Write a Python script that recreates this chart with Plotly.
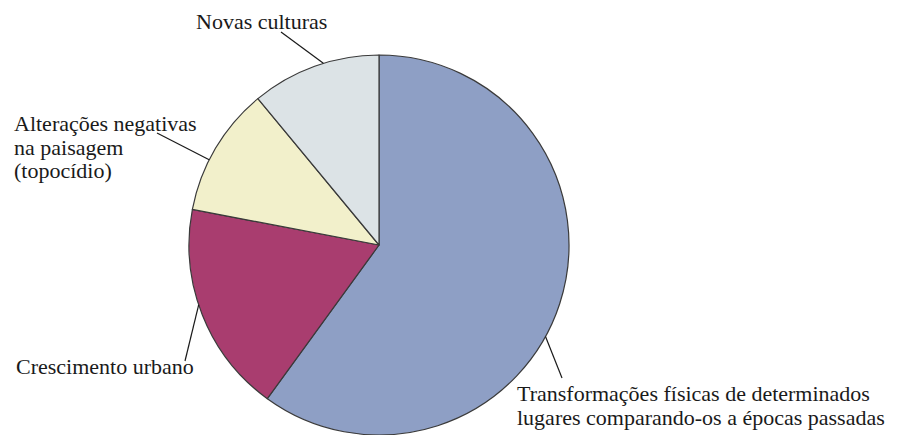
"""
Pie chart of how landscape change is perceived, with outside labels
joined to their slices by thin leader lines.
"""

import math
import plotly.graph_objects as go

# slices, clockwise from 12 o'clock
labels = [
    "Transformações físicas de determinados<br>lugares comparando-os a épocas passadas",
    "Crescimento urbano",
    "Alterações negativas<br>na paisagem<br>(topocídio)",
    "Novas culturas",
]
values = [60, 18, 11, 11]
colors = ["#8E9FC5", "#A93D6F", "#F2F0CB", "#DCE3E6"]

# layout (pixels in the browser window, which is 899 x 435)
W, H = 899, 435
OFF = 8  # default body margin of the page
CX, CY, R = 379, 245, 190
# where along each slice the leader line touches the rim (0..1)
tip_frac = [0.55, 0.55, 0.40, 0.57]
# tail of each leader line and the top-left corner of each label
tails = [(562, 378), (185, 361), (157, 133), (281, 32)]
text_pos = [(515, 379), (14, 352), (12, 109), (194, 7)]
LINE_GAP = 23.5  # tighter than plotly's own <br> spacing

FONT = "Times New Roman, serif"
FONT_SIZE = 22


def px(x, y):
    # window pixel -> paper coordinates (no margins)
    return (x - OFF) / W, 1 - (y - OFF) / H


def main():
    fig = go.Figure()
    x0, y1 = px(CX - R, CY - R)
    x1, y0 = px(CX + R, CY + R)
    fig.add_trace(
        go.Pie(
            labels=labels,
            values=values,
            sort=False,
            direction="clockwise",
            rotation=0,
            marker=dict(colors=colors, line=dict(color="#3a3a3a", width=1.2)),
            textinfo="none",
            hoverinfo="label+percent",
            showlegend=False,
            domain=dict(x=[x0, x1], y=[y0, y1]),
        )
    )

    # leader lines: rim point computed from the cumulative slice angles
    total = sum(values)
    start = 0.0
    for v, f, (tx, ty) in zip(values, tip_frac, tails):
        ang = math.radians((start + v * f) / total * 360)
        rx = CX + R * math.sin(ang)
        ry = CY - R * math.cos(ang)
        start += v
        ax0, ay0 = px(tx, ty)
        ax1, ay1 = px(rx, ry)
        fig.add_shape(
            type="line", xref="paper", yref="paper",
            x0=ax0, y0=ay0, x1=ax1, y1=ay1,
            line=dict(color="#1a1a1a", width=1.2),
        )

    # one annotation per text line so the line spacing can be set
    for lab, (tx, ty) in zip(labels, text_pos):
        for i, line in enumerate(lab.split("<br>")):
            ax, ay = px(tx, ty + i * LINE_GAP)
            fig.add_annotation(
                x=ax, y=ay, xref="paper", yref="paper",
                text=line, showarrow=False, align="left",
                xanchor="left", yanchor="top",
                font=dict(family=FONT, size=FONT_SIZE, color="#1a1a1a"),
            )

    fig.update_layout(
        width=W, height=H,
        margin=dict(l=0, r=0, t=0, b=0),
        paper_bgcolor="white",
        plot_bgcolor="white",
    )
    fig.write_html("out.html")


if __name__ == "__main__":
    main()
